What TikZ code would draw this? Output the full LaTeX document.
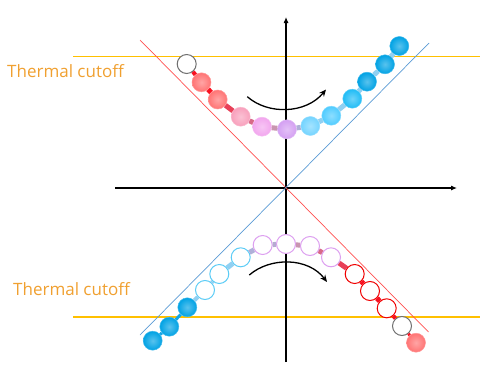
\documentclass[tikz,border=0pt]{standalone}
\usepackage{fontspec}
\setmainfont{Open Sans}
\usetikzlibrary{arrows.meta}
\definecolor{cutoff}{HTML}{FFC000}
\definecolor{labelc}{HTML}{F0A030}
\definecolor{redline}{HTML}{FF5050}
\definecolor{blueline}{HTML}{5B9BD5}
\definecolor{cA}{HTML}{FF7474}
\definecolor{cB}{HTML}{F8A0BC}
\definecolor{cC}{HTML}{F2A6EE}
\definecolor{cD}{HTML}{D4A0F2}
\definecolor{cE}{HTML}{74D4FF}
\definecolor{cF}{HTML}{50CCFF}
\definecolor{cG}{HTML}{20BCF6}
\definecolor{cH}{HTML}{00A2E4}
\definecolor{eCyan}{HTML}{5CCCF6}
\definecolor{eViolet}{HTML}{DDA0F0}
\definecolor{eRed}{HTML}{F00000}
\definecolor{eGray}{HTML}{707070}
\definecolor{bR}{HTML}{F81020}
\definecolor{bR2}{HTML}{E84058}
\definecolor{bP}{HTML}{D86888}
\definecolor{bM}{HTML}{C896B0}
\definecolor{bG}{HTML}{B0B0D8}
\definecolor{bL}{HTML}{90D0F2}
\definecolor{bB}{HTML}{10A6E6}
\tikzset{
  bead/.style={circle, minimum size=19pt, inner sep=0pt, shading=radial,
    inner color=#1!65!white, outer color=#1, draw=#1!75!white, line width=0.5pt},
  ebead/.style={circle, minimum size=19pt, inner sep=0pt, fill=white, draw=#1, line width=1pt},
  bond/.style={line width=#1},
  cutline/.style={cutoff, line width=1.1pt},
  cutlabel/.style={anchor=base west, text=labelc, font=\fontsize{17}{20}\selectfont, inner sep=0pt},
  axis/.style={line width=1.1pt, -{Latex[length=6pt,width=5pt]}},
  turn/.style={line width=1.3pt, -{Stealth[length=7pt,width=6pt]}}
}
\begin{document}
\begin{tikzpicture}[x=1pt,y=-1pt]
\useasboundingbox (0,0) rectangle (498,372);
% cutoff lines
\coordinate (c1a) at (73,56.3); \coordinate (c1b) at (480,56.3);
\coordinate (c2a) at (73,317); \coordinate (c2b) at (480,317);
\draw[cutline] (c1a) -- (c1b);
\draw[cutline] (c2a) -- (c2b);
\node[cutlabel] (lab1) at (7,77.7) {Thermal cutoff};
\node[cutlabel] (lab2) at (13,295) {Thermal cutoff};
% axes
\coordinate (xa) at (115,188); \coordinate (xb) at (457,188);
\coordinate (ya) at (286,362); \coordinate (yb) at (286,17);
\draw[axis] (xa) -- (xb);
\draw[axis] (ya) -- (yb);
% asymptotes
\coordinate (r1) at (140,40); \coordinate (r2) at (428.5,332);
\coordinate (b1) at (140,335); \coordinate (b2) at (429,43);
\draw[redline, line width=0.7pt] (r1) -- (r2);
\draw[blueline, line width=0.7pt] (b1) -- (b2);
% upper chain
\node[ebead=eGray] (u0) at (186.7,64) {};
\node[bead=cA] (u1) at (201.5,82.3) {};
\node[bead=cA] (u2) at (217.7,99.5) {};
\node[bead=cB] (u3) at (240.7,116.7) {};
\node[bead=cC] (u4) at (262,126.7) {};
\node[bead=cD] (u5) at (287,129.3) {};
\node[bead=cE] (u6) at (310.3,126) {};
\node[bead=cF] (u7) at (331.3,115.7) {};
\node[bead=cG] (u8) at (352.3,98.7) {};
\node[bead=cH] (u9) at (367,81.7) {};
\node[bead=cH] (u10) at (385,64.3) {};
\node[bead=cH] (u11) at (399.3,46) {};
\draw[bond=4pt, bR] (u0) -- (u1);
\draw[bond=5pt, bR] (u1) -- (u2);
\draw[bond=5pt, bR2] (u2) -- (u3);
\draw[bond=5pt, bP] (u3) -- (u4);
\draw[bond=5pt, bM] (u4) -- (u5);
\draw[bond=5pt, bG] (u5) -- (u6);
\draw[bond=5pt, bL] (u6) -- (u7);
\draw[bond=5pt, bL] (u7) -- (u8);
\draw[bond=5pt, bL] (u8) -- (u9);
\draw[bond=5pt, bL] (u9) -- (u10);
\draw[bond=5pt, bL] (u10) -- (u11);
% lower chain
\node[bead=cH] (l1) at (152.7,340.7) {};
\node[bead=cH] (l2) at (169.3,326.7) {};
\node[bead=cH] (l3) at (187.3,307.3) {};
\node[ebead=eCyan] (l4) at (205,290) {};
\node[ebead=eCyan] (l5) at (219.3,274) {};
\node[ebead=eCyan] (l6) at (240.7,257.3) {};
\node[ebead=eViolet] (l7) at (262.7,245) {};
\node[ebead=eViolet] (l8) at (286,244) {};
\node[ebead=eViolet] (l9) at (310,246) {};
\node[ebead=eViolet] (l10) at (331,257.3) {};
\node[ebead=eRed] (l11) at (354.7,274) {};
\node[ebead=eRed] (l12) at (370,291) {};
\node[ebead=eRed] (l13) at (386.7,308.3) {};
\node[ebead=eGray] (l14) at (402,326) {};
\node[bead=cA] (l15) at (416,342.7) {};
\draw[bond=3pt, bB] (l1) -- (l2);
\draw[bond=3pt, bB] (l2) -- (l3);
\draw[bond=4pt, bL] (l3) -- (l4);
\draw[bond=4pt, bL] (l4) -- (l5);
\draw[bond=5pt, bL] (l5) -- (l6);
\draw[bond=5pt, bG] (l6) -- (l7);
\draw[bond=5pt, bG!80!bM] (l7) -- (l8);
\draw[bond=5pt, bM] (l8) -- (l9);
\draw[bond=5pt, bP] (l9) -- (l10);
\draw[bond=5pt, bR2] (l10) -- (l11);
\draw[bond=5pt, bR] (l11) -- (l12);
\draw[bond=5pt, bR] (l12) -- (l13);
\draw[bond=4pt, bR] (l13) -- (l14);
\draw[bond=3pt, bR] (l14) -- (l15);
% turning arrows
\coordinate (t1a) at (247.3,96.7); \coordinate (t1b) at (326,89.5);
\draw[turn] (t1a) .. controls (268,115) and (306,114) .. (t1b);
\coordinate (t2a) at (249.3,275); \coordinate (t2b) at (327,282);
\draw[turn] (t2a) .. controls (270,257) and (308,257) .. (t2b);
\end{tikzpicture}
\end{document}
